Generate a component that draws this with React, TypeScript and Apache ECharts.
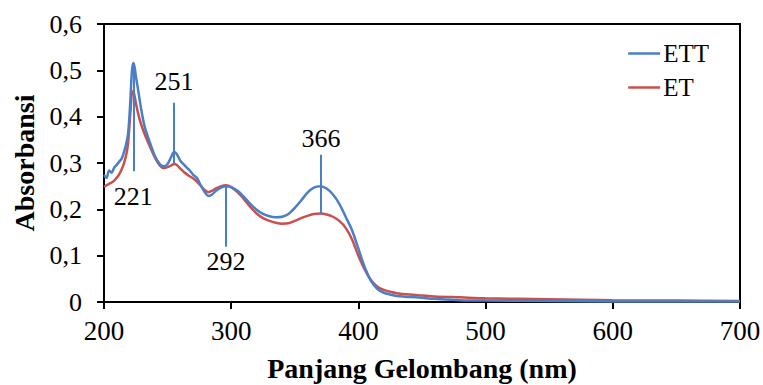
import React, { useEffect, useRef } from "react";
import * as echarts from "echarts";

const wavelengths = [
  200, 202, 204, 206, 208, 210, 212, 214, 216, 218, 219, 220, 221, 222, 223, 224, 225, 227, 229, 232,
  236, 240, 244, 247, 250, 253, 255, 257, 260, 263, 267, 270, 273, 276, 279, 282, 285, 288, 292, 296,
  300, 305, 310, 315, 320, 325, 330, 335, 340, 345, 350, 355, 360, 365, 370, 375, 380, 385, 390, 395,
  400, 405, 410, 415, 420, 425, 430, 440, 450, 460, 480, 500, 550, 600, 650, 700,
];

const ettValues = [
  0.274, 0.268, 0.284, 0.279, 0.29, 0.296, 0.303, 0.31, 0.326, 0.348, 0.365, 0.4, 0.45, 0.5, 0.516, 0.508, 0.488, 0.455, 0.42, 0.378,
  0.345, 0.315, 0.297, 0.293, 0.298, 0.314, 0.324, 0.32, 0.305, 0.296, 0.285, 0.275, 0.268, 0.252, 0.238, 0.229, 0.232, 0.24, 0.247, 0.25,
  0.248, 0.24, 0.227, 0.212, 0.199, 0.19, 0.185, 0.183, 0.184, 0.19, 0.203, 0.219, 0.236, 0.247, 0.25, 0.245, 0.232, 0.212, 0.184, 0.155,
  0.115, 0.075, 0.045, 0.028, 0.02, 0.016, 0.013, 0.011, 0.009, 0.007, 0.004, 0.003, 0.002, 0.001, 0.001, 0.001,
];

const etValues = [
  0.248, 0.252, 0.255, 0.258, 0.262, 0.268, 0.276, 0.287, 0.302, 0.325, 0.345, 0.38, 0.42, 0.452, 0.455, 0.445, 0.43, 0.405, 0.385, 0.362,
  0.336, 0.312, 0.294, 0.289, 0.291, 0.295, 0.298, 0.296, 0.288, 0.28, 0.272, 0.267, 0.26, 0.251, 0.242, 0.237, 0.24, 0.245, 0.25, 0.252,
  0.248, 0.237, 0.222, 0.205, 0.191, 0.181, 0.175, 0.171, 0.169, 0.17, 0.175, 0.181, 0.186, 0.19, 0.191, 0.189, 0.184, 0.175, 0.16, 0.135,
  0.1, 0.07, 0.047, 0.033, 0.026, 0.022, 0.019, 0.016, 0.014, 0.012, 0.01, 0.008, 0.006, 0.004, 0.003, 0.002,
];

const seriesNames = ["ETT", "ET"];
const yTickLabels = ["0", "0,1", "0,2", "0,3", "0,4", "0,5", "0,6"];

// annotation lines: label text, x position, start y, end y (label drawn after end)
const peakLabels = ["221", "251", "292", "366"];
const peakX = [223, 255, 296, 370.5];
const peakStartY = [0.516, 0.298, 0.25, 0.19];
const peakEndY = [0.282, 0.43, 0.119, 0.318];
const peakLabelDistance = [12, 8, 2, 3];

const FONT = "Liberation Serif";
const BLUE = "#4a7ec8";
const RED = "#c9504d";

export default function App() {
  const ref = useRef<HTMLDivElement>(null);

  useEffect(() => {
    if (!ref.current) return;
    const chart = echarts.init(ref.current, null, { renderer: "svg" });
    const ett = wavelengths.map((w, i) => [w, ettValues[i]]);
    const et = wavelengths.map((w, i) => [w, etValues[i]]);
    const markData = peakLabels.map((lab, i) => [
      { coord: [peakX[i], peakStartY[i]] },
      {
        coord: [peakX[i], peakEndY[i]],
        label: { formatter: lab, distance: peakLabelDistance[i] },
      },
    ]);
    chart.setOption({
      animation: false,
      backgroundColor: "#fff",
      textStyle: { fontFamily: FONT },
      grid: {
        left: 104,
        right: 23,
        top: 24,
        bottom: 83,
        outerBoundsMode: "none",
        containLabel: false,
        show: true,
        borderColor: "#000",
        borderWidth: 2,
        backgroundColor: "transparent",
      },
      legend: {
        orient: "vertical",
        right: 54,
        top: 41,
        padding: 0,
        itemGap: 9,
        icon: "rect",
        itemWidth: 32,
        itemHeight: 2.5,
        data: seriesNames,
        textStyle: { fontFamily: FONT, fontSize: 25, color: "#000", padding: [0, 0, 0, -2] },
      },
      xAxis: {
        type: "value",
        min: 200,
        max: 700,
        interval: 100,
        name: "Panjang Gelombang (nm)",
        nameLocation: "middle",
        nameGap: 52,
        nameTextStyle: { fontFamily: FONT, fontSize: 28, fontWeight: "bold", color: "#000" },
        axisLine: { show: true, lineStyle: { color: "#000", width: 2 } },
        axisTick: { show: true, inside: false, length: 7, lineStyle: { color: "#000", width: 2 } },
        axisLabel: { fontFamily: FONT, fontSize: 27, color: "#000", margin: 15 },
        splitLine: { show: false },
      },
      yAxis: {
        type: "value",
        min: 0,
        max: 0.6,
        interval: 0.1,
        name: "Absorbansi",
        nameLocation: "middle",
        nameGap: 64,
        nameTextStyle: { fontFamily: FONT, fontSize: 28, fontWeight: "bold", color: "#000" },
        axisLine: { show: true, lineStyle: { color: "#000", width: 2 } },
        axisTick: { show: true, inside: false, length: 7, lineStyle: { color: "#000", width: 2 } },
        axisLabel: {
          fontFamily: FONT,
          fontSize: 26,
          color: "#000",
          margin: 22,
          formatter: (_v: number, i: number) => yTickLabels[i],
        },
        splitLine: { show: false },
      },
      series: [
        {
          name: seriesNames[0],
          type: "line",
          data: ett,
          showSymbol: false,
          symbol: "none",
          smooth: 0.3,
          lineStyle: { color: BLUE, width: 2.5 },
          itemStyle: { color: BLUE },
          z: 3,
          markLine: {
            silent: true,
            symbol: "none",
            animation: false,
            lineStyle: { color: BLUE, width: 2, type: "solid" },
            label: {
              show: true,
              position: "end",
              fontFamily: FONT,
              fontSize: 26,
              color: "#000",
            },
            emphasis: { disabled: true },
            data: markData,
          },
        },
        {
          name: seriesNames[1],
          type: "line",
          data: et,
          showSymbol: false,
          symbol: "none",
          smooth: 0.3,
          lineStyle: { color: RED, width: 2.5 },
          itemStyle: { color: RED },
          z: 2,
        },
      ],
    });
    return () => chart.dispose();
  }, []);

  return (
    <div
      ref={ref}
      style={{ position: "absolute", left: 0, top: 0, width: 763, height: 385 }}
    />
  );
}
